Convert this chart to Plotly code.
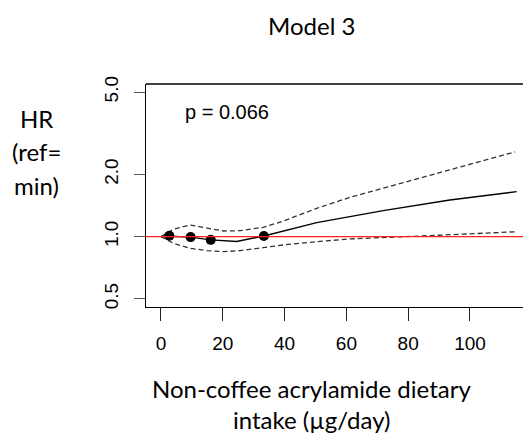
import math
import plotly.graph_objects as go

# Data
fit_x = [0, 2.7, 9.6, 16.1, 24.5, 33.3, 50.4, 71.9, 93.5, 115.1]
fit_hr = [1.0, 1.005, 0.995, 0.965, 0.948, 1.008, 1.169, 1.336, 1.503, 1.65]

upper_x = [0, 4.0, 9.4, 14.8, 20.2, 25.6, 33.1, 39.6, 50.4, 61.2, 71.9, 82.7, 93.5, 104.3, 114.6]
upper_hr = [1.0, 1.086, 1.139, 1.098, 1.065, 1.069, 1.11, 1.19, 1.371, 1.55, 1.713, 1.893, 2.10, 2.33, 2.57]

lower_x = [0, 4.0, 9.4, 14.8, 20.2, 25.6, 33.1, 39.6, 50.4, 61.2, 74.1, 87.1, 98.9, 115.1]
lower_hr = [1.0, 0.929, 0.879, 0.856, 0.846, 0.856, 0.885, 0.912, 0.946, 0.975, 0.993, 1.008, 1.03, 1.057]

knot_x = [2.7, 9.6, 16.1, 33.3]
knot_hr = [1.01, 0.995, 0.965, 1.008]

x_ticks = [0, 20, 40, 60, 80, 100]
y_ticks = [0.5, 1.0, 2.0, 5.0]
y_tick_labels = ["0.5", "1.0", "2.0", "5.0"]

title_text = "Model 3"
p_text = "p = 0.066"
x_title_lines = ["Non-coffee acrylamide dietary", "intake (µg/day)"]
y_title_lines = ["HR", "(ref=", "min)"]

# page offset of the figure (body margin of the html page)
OFF = 8
W, H = 531, 434
# plot area in page pixels: x 146..531, y 84..307
L = 146 - OFF
T = 84 - OFF
R = W - (531 - OFF)
B = H - (307 - OFF)
PW, PH = W - L - R, H - T - B


def px_to_paper(px, py):
    """page pixel -> paper coordinates"""
    fx, fy = px - OFF, py - OFF
    return (fx - L) / PW, (H - B - fy) / PH


fig = go.Figure()
dash = "5px,3px"
fig.add_trace(go.Scatter(x=upper_x, y=upper_hr, mode="lines",
                         line=dict(color="#333333", width=1.3, dash=dash), hoverinfo="skip"))
fig.add_trace(go.Scatter(x=lower_x, y=lower_hr, mode="lines",
                         line=dict(color="#333333", width=1.3, dash=dash), hoverinfo="skip"))
fig.add_trace(go.Scatter(x=fit_x, y=fit_hr, mode="lines",
                         line=dict(color="black", width=1.4), hoverinfo="skip"))
fig.add_hline(y=1.0, line=dict(color="#ff2020", width=1.3))
fig.add_trace(go.Scatter(x=knot_x, y=knot_hr, mode="markers",
                         marker=dict(color="black", size=10), hoverinfo="skip"))

# top border of the box
fig.add_shape(type="line", xref="paper", yref="paper", x0=0, x1=1, y0=1, y1=1,
              line=dict(color="black", width=1.3))

fig.update_layout(
    width=W, height=H,
    margin=dict(l=L, r=R, t=T, b=B, autoexpand=False),
    paper_bgcolor="white", plot_bgcolor="white",
    showlegend=False,
    font=dict(family="Liberation Sans, Arial, sans-serif", color="black"),
)
fig.update_xaxes(
    range=[-4.85, 119.75], showgrid=False, zeroline=False, automargin=False,
    showline=True, mirror=False, linecolor="black", linewidth=1.3,
    ticks="outside", ticklen=13, tickwidth=1.3, tickcolor="#222222",
    tickvals=x_ticks, tickfont=dict(size=19, family="Liberation Sans, Arial"),
    ticklabelstandoff=6,
)
fig.update_yaxes(
    type="log", range=[-0.340, 0.738], showgrid=False, zeroline=False, automargin=False,
    showline=True, mirror=False, linecolor="black", linewidth=1.3,
    ticks="outside", ticklen=11, tickwidth=1.3, tickcolor="#555555",
    tickvals=y_ticks, ticktext=y_tick_labels, tickangle=-90,
    tickfont=dict(size=19, family="Liberation Sans, Arial"),
    ticklabelstandoff=8,
)

fig.add_annotation(x=7.1, y=math.log10(4.0), xref="x", yref="y", text=p_text,
                   showarrow=False, xanchor="left", yanchor="middle",
                   font=dict(size=20, family="Liberation Sans, Arial"))

calib = "Lato, Open Sans, sans-serif"
px, py = px_to_paper(311, 26)
fig.add_annotation(x=px, y=py, xref="paper", yref="paper", text=title_text,
                   showarrow=False, xanchor="center", yanchor="middle",
                   font=dict(size=24, family=calib))
for i, line in enumerate(x_title_lines):
    px, py = px_to_paper(311, 388 + 31 * i)
    fig.add_annotation(x=px, y=py, xref="paper", yref="paper",
                       text=line, showarrow=False, xanchor="center", yanchor="middle",
                       font=dict(size=24, family=calib))
for i, line in enumerate(y_title_lines):
    px, py = px_to_paper(36, 118 + 33.5 * i)
    fig.add_annotation(x=px, y=py, xref="paper", yref="paper",
                       text=line, showarrow=False, xanchor="center", yanchor="middle",
                       font=dict(size=24, family=calib))

fig.write_html("out.html")
